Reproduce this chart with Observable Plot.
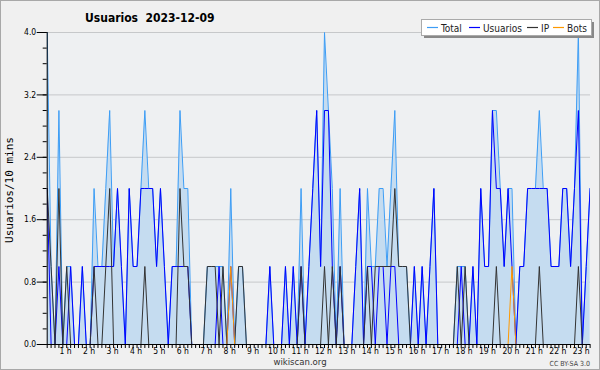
<!DOCTYPE html>
<html><head><meta charset="utf-8">
<script src="https://cdn.jsdelivr.net/npm/d3@7"></script>
<script src="https://cdn.jsdelivr.net/npm/@observablehq/plot@0.6"></script>
<style>body{margin:0;background:#f0f0f0;} svg{display:block;}</style>
</head><body><div id="chart"></div>
<script>
// values per 10-minute slot, 2023-12-09 (index 0 = 00:00)
const total = [4,1,0,3,0,1,1,0,0,1, 0,0,2,1,1,2,3,1,2,1, 0,2,1,1,2,3,2,2,1,2, 1,0,1,1,3,2,2,0,0,0,
  0,1,1,1,1,1,0,2,0,1, 1,0,0,0,0,0,0,1,0,0, 0,1,0,1,0,2,0,1,2,3, 1,4,3,2,0,2,0,0,0,1,
  2,0,2,1,1,2,2,1,2,3, 1,1,1,0,1,0,1,0,1,2, 0,0,0,0,0,1,1,1,0,1, 0,2,1,1,3,3,2,1,2,2,
  0,1,1,2,2,2,3,2,2,1, 1,1,2,2,1,2,4,0,1,2];
const usuarios = [2,0,0,1,0,0,1,0,0,1, 0,0,1,1,1,1,1,1,2,1, 0,2,1,1,2,2,2,2,1,2, 1,0,1,1,1,1,1,0,0,0,
  0,0,0,0,1,0,0,1,0,0, 0,0,0,0,0,0,0,1,0,0, 0,1,0,1,0,1,0,1,2,3, 1,3,3,1,0,1,0,0,0,1,
  2,0,1,1,0,1,1,0,1,1, 0,0,0,0,1,0,1,0,1,2, 0,0,0,0,0,0,1,0,0,1, 0,2,1,1,3,2,2,1,2,1,
  0,1,1,2,2,2,2,2,2,1, 1,1,2,2,1,2,3,0,1,2];
const ip = [2,1,0,2,0,1,0,0,0,0, 0,0,1,0,0,1,2,0,0,0, 0,0,0,0,0,1,0,0,0,0, 0,0,0,0,2,1,1,0,0,0,
  0,1,1,1,0,1,0,0,0,1, 1,0,0,0,0,0,0,0,0,0, 0,0,0,0,0,1,0,0,0,0, 0,1,0,1,0,1,0,0,0,0,
  0,0,1,0,1,1,1,1,1,2, 1,1,1,0,0,0,0,0,0,0, 0,0,0,0,0,1,0,1,0,0, 0,0,0,0,0,1,0,0,0,0,
  0,0,0,0,0,0,1,0,0,0, 0,0,0,0,0,0,1,0,0,0];
const bots = [0,0,0,0,0,0,0,0,0,0, 0,0,0,0,0,0,0,0,0,0, 0,0,0,0,0,0,0,0,0,0, 0,0,0,0,0,0,0,0,0,0,
  0,0,0,0,0,0,0,1,0,0, 0,0,0,0,0,0,0,0,0,0, 0,0,0,0,0,0,0,0,0,0, 0,0,0,0,0,0,0,0,0,0,
  0,0,0,0,0,0,0,0,0,0, 0,0,0,0,0,0,0,0,0,0, 0,0,0,0,0,0,0,0,0,0, 0,0,0,0,0,0,0,0,0,1,
  0,0,0,0,0,0,0,0,0,0, 0,0,0,0,0,0,0,0,0,0];
const hourLabels = ["1 h","2 h","3 h","4 h","5 h","6 h","7 h","8 h","9 h","10 h","11 h","12 h",
  "13 h","14 h","15 h","16 h","17 h","18 h","19 h","20 h","21 h","22 h","23 h"];
const yTickLabels = [0, 0.8, 1.6, 2.4, 3.2, 4.0];
const yMinorTicks = [0,0.2,0.4,0.6,0.8,1.0,1.2,1.4,1.6,1.8,2.0,2.2,2.4,2.6,2.8,3.0,3.2,3.4,3.6,3.8,4.0];
const seriesNames = ["Total","Usuarios","IP","Bots"];
const seriesColors = ["#3d9df5","#0000ff","#333333","#ff9900"];

const rows = total.map((t, i) => ({i, total: t, usuarios: usuarios[i], ip: ip[i], bots: bots[i]}));
const slots = rows.map(d => d.i);
const hourTicks = hourLabels.map((_, k) => (k + 1) * 6);

const chart = Plot.plot({
  width: 600, height: 370,
  marginLeft: 46.7, marginRight: 10, marginTop: 32, marginBottom: 26,
  x: {domain: [0, 139.1]},
  y: {domain: [0, 4]},
  style: {background: "#f0f0f0", fontFamily: "'DejaVu Sans Condensed', 'DejaVu Sans', sans-serif", color: "#000"},
  marks: [
    Plot.frame({fill: "#eef0f2", stroke: null}),
    Plot.gridY(yTickLabels, {stroke: "#c6c8ca", strokeOpacity: 1}),
    Plot.areaY(rows, {x: "i", y: "total", fill: "#c5dcf0", fillOpacity: 1, clip: true}),
    Plot.lineY(rows, {x: "i", y: "total", stroke: seriesColors[0], strokeWidth: 1, clip: true}),
    Plot.lineY(rows, {x: "i", y: "usuarios", stroke: seriesColors[1], strokeWidth: 1, clip: true}),
    Plot.lineY(rows, {x: "i", y: "ip", stroke: seriesColors[2], strokeWidth: 1, clip: true}),
    Plot.lineY(rows, {x: "i", y: "bots", stroke: seriesColors[3], strokeWidth: 1, clip: true}),
    Plot.axisX({ticks: slots.filter(s => s <= 139), tickSize: 4, tickFormat: () => "", label: null}),
    Plot.axisX({ticks: hourTicks, tickSize: 0, tickPadding: 3, tickFormat: d => hourLabels[d / 6 - 1],
      dx: -5, fontSize: 8.5, label: null}),
    Plot.axisY({ticks: yMinorTicks, tickSize: 4, tickFormat: () => "", label: null}),
    Plot.axisY({ticks: yTickLabels, tickSize: 10, tickPadding: 1, tickFormat: d3.format(".1f"), fontSize: 8.5, label: null}),
    Plot.ruleY([0], {stroke: "#000"}),
    Plot.ruleX([0], {stroke: "#000"})
  ]
});

const svg = d3.select(chart);
svg.append("rect").attr("x", 0.5).attr("y", 0.5).attr("width", 599).attr("height", 369)
  .attr("fill", "none").attr("stroke", "#a8a8a8");
svg.append("text").attr("x", 85).attr("y", 22).attr("text-anchor", "start").attr("font-size", 12).attr("font-weight", "bold")
  .attr("fill", "#000").style("white-space", "pre").text("Usuarios  2023-12-09");
svg.append("text").attr("transform", "translate(13,190) rotate(-90)").attr("text-anchor", "middle")
  .attr("font-family", "'DejaVu Sans Mono', monospace").attr("font-size", 11).attr("fill", "#000")
  .text("Usuarios/10 mins");
svg.append("text").attr("x", 300).attr("y", 365).attr("text-anchor", "middle").attr("font-size", 9.5)
  .attr("fill", "#333").text("wikiscan.org");
svg.append("text").attr("x", 590).attr("y", 366).attr("text-anchor", "end").attr("font-size", 7)
  .attr("fill", "#444").text("CC BY-SA 3.0");

// legend
const lg = svg.append("g").attr("text-anchor", "start");
lg.append("rect").attr("x", 424).attr("y", 22).attr("width", 170).attr("height", 16).attr("fill", "#888");
lg.append("rect").attr("x", 421.5).attr("y", 19.5).attr("width", 170).attr("height", 16)
  .attr("fill", "#fff").attr("stroke", "#aaa");
const lx = [427, 469, 527, 553];
seriesNames.forEach((name, k) => {
  lg.append("line").attr("x1", lx[k]).attr("x2", lx[k] + 11).attr("y1", 27.5).attr("y2", 27.5)
    .attr("stroke", seriesColors[k]).attr("stroke-width", 1.2);
  lg.append("text").attr("x", lx[k] + 14).attr("y", 31.5).attr("text-anchor", "start")
    .attr("font-size", 10).attr("fill", "#222").text(name);
});

document.getElementById("chart").appendChild(chart);
</script>
</body></html>
